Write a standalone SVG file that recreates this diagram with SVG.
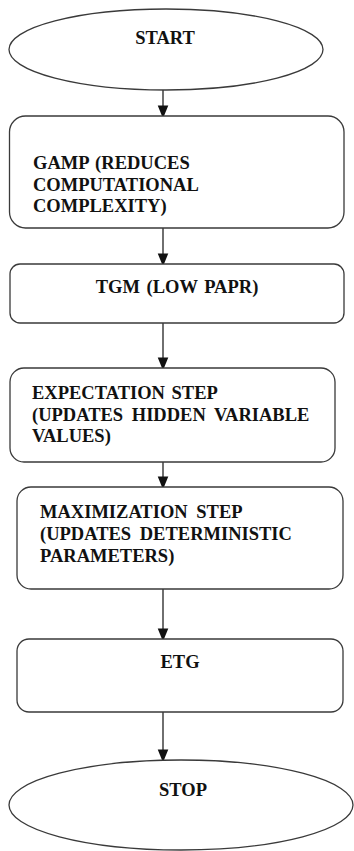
<svg xmlns="http://www.w3.org/2000/svg" width="354" height="851" viewBox="0 0 354 851">
  <style>
    .shape { fill: #ffffff; stroke: #3a3a3a; stroke-width: 1.3; }
    .label { font-family: "Liberation Serif", "Times New Roman", "DejaVu Serif", serif; font-weight: bold; font-size: 18.5px; fill: #111111; word-spacing: 2px; }
    .wide { word-spacing: 4px; }
    .mid { text-anchor: middle; }
    .link { stroke: #222222; stroke-width: 1.3; fill: none; marker-end: url(#arrow); }
  </style>
  <defs>
    <marker id="arrow" markerWidth="13" markerHeight="16" refX="13" refY="6.5" orient="auto" markerUnits="userSpaceOnUse" viewBox="0 0 16 13">
      <path d="M0,0 L16,6.5 L0,13 Z" fill="#111111"/>
    </marker>
  </defs>
  <rect width="354" height="851" fill="#ffffff"/>

  <g id="connectors">
    <line class="link" x1="163" y1="90" x2="163" y2="116"/>
    <line class="link" x1="163" y1="228" x2="163" y2="264"/>
    <line class="link" x1="163" y1="323" x2="163" y2="368"/>
    <line class="link" x1="163" y1="462" x2="163" y2="487"/>
    <line class="link" x1="163" y1="589" x2="163" y2="639"/>
    <line class="link" x1="163" y1="712" x2="163" y2="760"/>
  </g>

  <g id="start">
    <ellipse class="shape" cx="166" cy="49.5" rx="157" ry="40.5"/>
    <text class="label mid" x="165" y="44">START</text>
  </g>

  <g id="gamp">
    <rect class="shape" x="9.5" y="116" width="334.5" height="112" rx="16"/>
    <text class="label" x="33" y="169">GAMP (REDUCES</text>
    <text class="label" x="33" y="190.5">COMPUTATIONAL</text>
    <text class="label" x="33" y="212">COMPLEXITY)</text>
  </g>

  <g id="tgm">
    <rect class="shape" x="10" y="264" width="334" height="59" rx="10"/>
    <text class="label mid" x="177" y="293">TGM (LOW PAPR)</text>
  </g>

  <g id="expectation">
    <rect class="shape" x="10" y="368" width="325" height="94" rx="14"/>
    <text class="label" x="32" y="399">EXPECTATION STEP</text>
    <text class="label wide" x="32" y="421">(UPDATES HIDDEN VARIABLE</text>
    <text class="label" x="32" y="442">VALUES)</text>
  </g>

  <g id="maximization">
    <rect class="shape" x="17" y="487" width="326" height="102" rx="14"/>
    <text class="label wide" x="40" y="518">MAXIMIZATION STEP</text>
    <text class="label wide" x="40" y="540">(UPDATES DETERMINISTIC</text>
    <text class="label" x="40" y="562">PARAMETERS)</text>
  </g>

  <g id="etg">
    <rect class="shape" x="17" y="639" width="326" height="73" rx="12"/>
    <text class="label mid" x="180" y="668">ETG</text>
  </g>

  <g id="stop">
    <ellipse class="shape" cx="181" cy="805" rx="172" ry="45"/>
    <text class="label mid" x="183" y="796">STOP</text>
  </g>
</svg>
